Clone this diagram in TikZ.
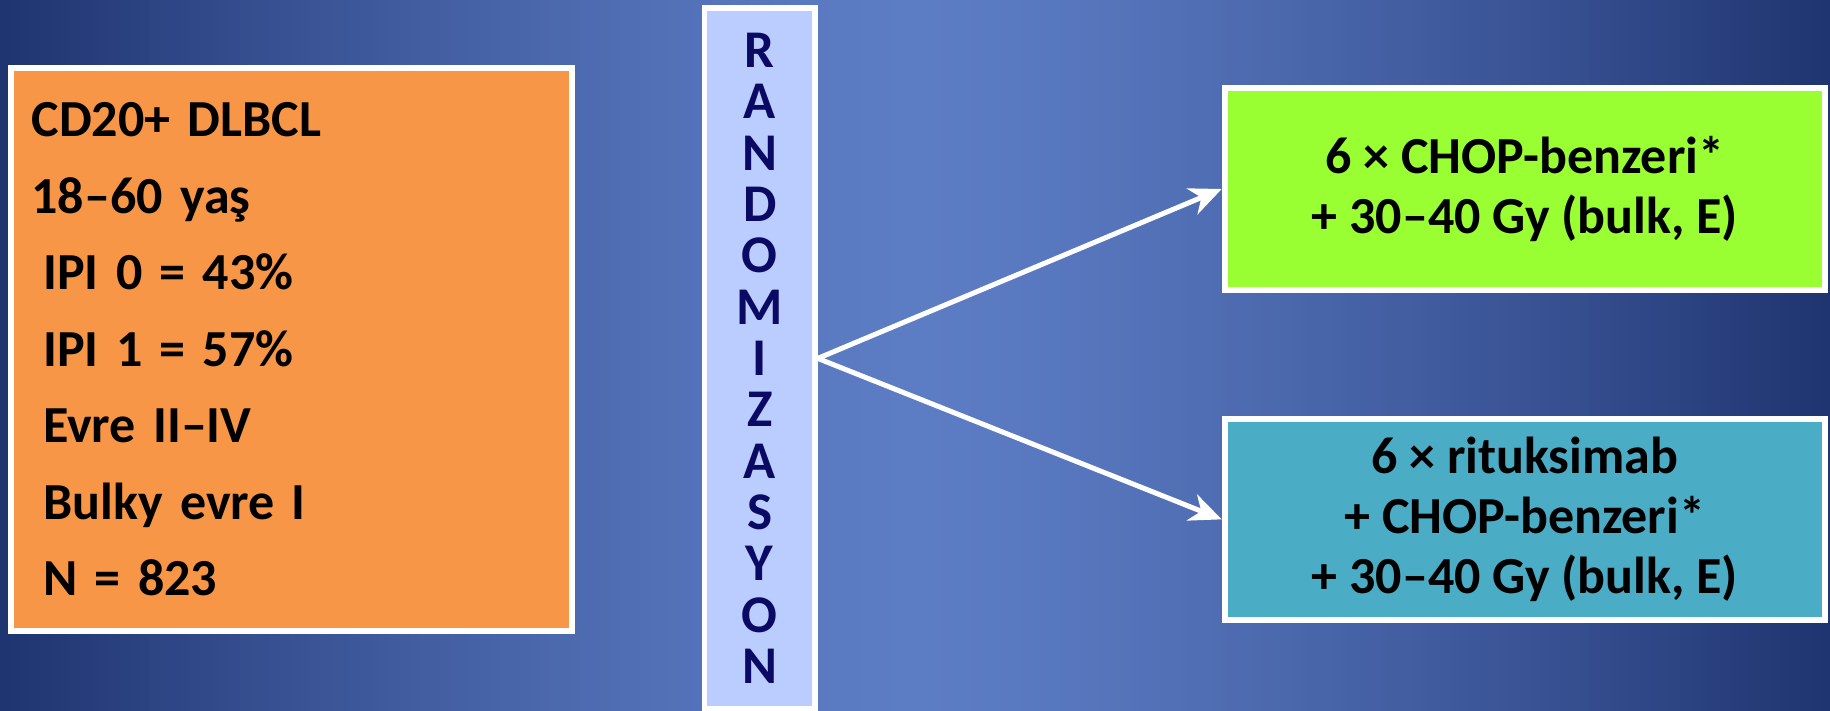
\documentclass[tikz,border=0pt]{standalone}
\usepackage{fontspec}
\setmainfont{Carlito}
\usetikzlibrary{arrows.meta}
\definecolor{bglight}{HTML}{5C7CC4}
\definecolor{bgdark}{HTML}{1F3470}
\definecolor{popfill}{HTML}{F79646}
\definecolor{randfill}{HTML}{BBCCFF}
\definecolor{randtext}{RGB}{10,10,100}
\definecolor{armA}{HTML}{99FF33}
\definecolor{armB}{HTML}{4BACC6}
\begin{document}
\begin{tikzpicture}[x=1pt,y=-1pt,
  box/.style={draw=white, line width=6pt, inner sep=0pt, rectangle},
  arm/.style={box, align=center, font=\fontsize{52}{60}\selectfont\bfseries,
    minimum width=600.3pt},
  conn/.style={draw=white, line width=5pt,
    -{Stealth[length=32pt,width=28pt,inset=10pt]}}]
\useasboundingbox (0,0) rectangle (1830,711);
% background: horizontal gradient, dark at the sides, light in the middle
\foreach \i in {0,...,182}{
  \pgfmathsetmacro{\xl}{\i*10}
  \pgfmathsetmacro{\mix}{100*pow(abs(\xl+5-915)/915,1.4)}
  \fill[bgdark!\mix!bglight] (\xl,0) rectangle ({\xl+10.6},711);
}
% population box
\node[box, fill=popfill, minimum width=561pt, minimum height=563pt,
  inner xsep=20.5pt, text width=520pt, align=left,
  font=\fontsize{52}{76.5}\selectfont\bfseries] (pop) at (291.5,349.5)
  {CD20+ DLBCL\\
   18–60 yaş\\
   \hspace*{0.226em}IPI 0 = 43\%\\
   \hspace*{0.226em}IPI 1 = 57\%\\
   \hspace*{0.226em}Evre II–IV\\
   \hspace*{0.226em}Bulky evre I\\
   \hspace*{0.226em}N = 823};
% randomization column
\node[box, line width=5.5pt, fill=randfill, text=randtext,
  minimum width=110.5pt, minimum height=701.25pt, align=center,
  font=\fontsize{53}{51.33}\selectfont\bfseries] (rand) at (759.75,358.4)
  {R\\A\\N\\D\\O\\M\\I\\Z\\A\\S\\Y\\O\\N};
% arms
\node[arm, fill=armA, minimum height=202pt] (armone) at (1524.85,189)
  {6 × CHOP-benzeri*\\+ 30–40 Gy (bulk, E)};
\node[arm, fill=armB, minimum height=201.3pt] (armtwo) at (1524.85,519.35)
  {6 × rituksimab\\+ CHOP-benzeri*\\+ 30–40 Gy (bulk, E)};
% connectors
\draw[conn] (rand.east) -- (armone.west);
\draw[conn] (rand.east) -- (armtwo.west);
\end{tikzpicture}
\end{document}
